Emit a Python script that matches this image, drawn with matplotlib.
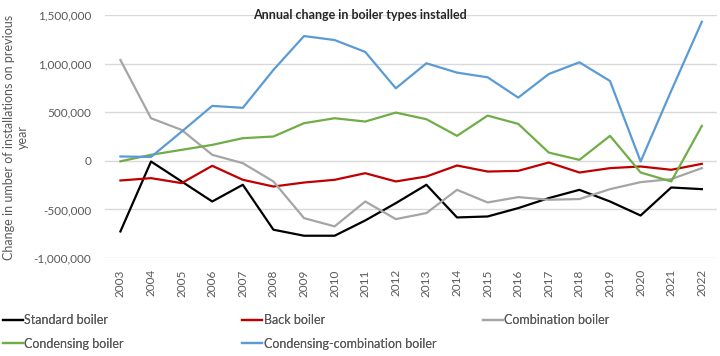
import matplotlib.pyplot as plt
import matplotlib.ticker as mticker
import numpy as np

years = [str(y) for y in range(2003, 2023)]

standard = [-726000, -7000, -212000, -418000, -246000, -708000, -770000, -770000, -613000, -435000,
            -246000, -582000, -572000, -486000, -383000, -298000, -418000, -562000, -274000, -291000]
back = [-202000, -178000, -229000, -51000, -195000, -264000, -223000, -195000, -127000, -212000,
        -161000, -48000, -110000, -103000, -17000, -120000, -75000, -58000, -92000, -31000]
combination = [1037000, 438000, 318000, 62000, -24000, -212000, -589000, -674000, -418000, -599000,
               -537000, -298000, -428000, -373000, -400000, -393000, -291000, -219000, -188000, -75000]
condensing = [-5000, 62000, 113000, 164000, 233000, 250000, 387000, 438000, 404000, 496000,
              428000, 257000, 465000, 380000, 85000, 10000, 257000, -120000, -212000, 359000]
condensing_combi = [45000, 40000, 300000, 565000, 545000, 935000, 1283000, 1242000, 1120000, 746000,
                    1003000, 907000, 859000, 650000, 893000, 1013000, 821000, -7000, 720000, 1430000]

series = [
    ("Standard boiler", standard, "#000000"),
    ("Back boiler", back, "#C00000"),
    ("Combination boiler", combination, "#A5A5A5"),
    ("Condensing boiler", condensing, "#70AD47"),
    ("Condensing-combination boiler", condensing_combi, "#5B9BD5"),
]

plt.rcParams['font.family'] = ['Lato', 'DejaVu Sans']
txt = "#595959"

fig = plt.figure(figsize=(7.2, 3.56), dpi=100)
ax = fig.add_axes([0.146, 0.275, 0.85, 0.683])

x = np.arange(len(years))
handles = []
for label, vals, col in series:
    h, = ax.plot(x, vals, color=col, lw=1.6, label=label)
    handles.append(h)

ax.set_xlim(-0.5, len(years) - 0.5)
ax.set_ylim(-1000000, 1500000)
ax.set_yticks(np.arange(-1000000, 1500001, 500000))
ax.yaxis.set_major_formatter(mticker.FuncFormatter(lambda v, p: f"{int(v):,}"))
ax.set_xticks(x)
ax.set_xticklabels(years, rotation=90)
ax.tick_params(axis='both', length=0, labelsize=8.5, colors=txt)
ax.tick_params(axis='x', pad=8)
ax.tick_params(axis='y', pad=10)
ax.grid(axis='y', color="#D9D9D9", lw=1)
ax.set_axisbelow(True)
for s in ax.spines.values():
    s.set_visible(False)

fig.text(0.5, 0.958, "Annual change in boiler types installed", ha='center', va='center',
         fontsize=9, fontweight='bold', color="#262626")
fig.text(0.022, 0.615, "Change in umber of installations on previous\nyear", rotation=90,
         ha='center', va='center', fontsize=9, color=txt, multialignment='center')

# legend entries laid out row by row, three per row
slots = [(0.0, 0.10), (0.333, 0.10), (0.667, 0.10), (0.0, 0.035), (0.333, 0.035)]
for h, (lx, ly) in zip(handles, slots):
    leg = fig.legend([h], [h.get_label()], loc='center left', bbox_to_anchor=(lx, ly),
                     frameon=False, fontsize=9, handlelength=1.6, handletextpad=0.1,
                     labelcolor=txt, borderaxespad=0.0, borderpad=0.2)
    fig.add_artist(leg)

fig.savefig("out.png", dpi=100)
